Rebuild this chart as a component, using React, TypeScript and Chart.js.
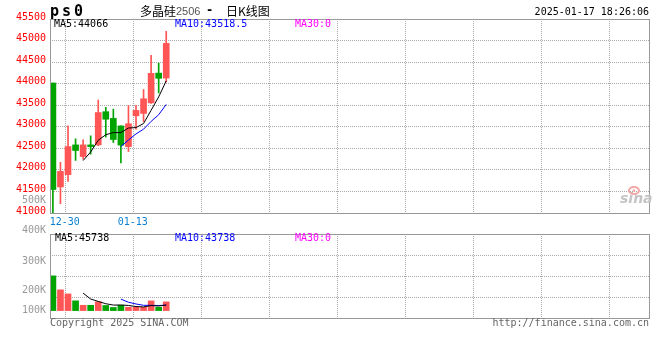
import React, { useEffect, useRef } from 'react';
import { Chart, registerables } from 'chart.js';

Chart.register(...registerables);

// ---------- data ----------
const dates = ['12-26', '12-27', '12-30', '12-31', '01-02', '01-03', '01-06', '01-07', '01-08', '01-09', '01-10', '01-13', '01-14', '01-15', '01-16', '01-17'];
const opens = [44015, 41605, 41890, 42580, 42310, 42580, 42580, 43350, 43195, 43020, 42540, 43255, 43310, 43555, 44245, 44130];
const highs = [44015, 42175, 43020, 42720, 42695, 42790, 43620, 43450, 43410, 43020, 43495, 43495, 43865, 44655, 44475, 45215];
const lows = [41000, 41215, 41735, 42220, 42250, 42365, 42560, 42760, 42635, 42160, 42425, 42945, 43120, 43540, 43785, 44040];
const closes = [41545, 41965, 42540, 42450, 42580, 42540, 43330, 43175, 42705, 42575, 43070, 43380, 43650, 44240, 44125, 44935];
const volumes = [281000, 168000, 135000, 79000, 43000, 43000, 71200, 41300, 25100, 43700, 27390, 26600, 26600, 78450, 26600, 70440];

const priceMin = 41000;
const priceMax = 45500;
const priceStep = 500;
const volTickLabels = ['500K', '400K', '300K', '200K', '100K'];

const titleCode = 'ps0';
const titleName = '多晶硅';
const titleContract = '2506';
const titleSuffix = '日K线图';
const timestamp = '2025-01-17 18:26:06';
const copyright = 'Copyright 2025 SINA.COM';
const siteUrl = 'http://finance.sina.com.cn';

// ---------- style / layout ----------
const UP = '#ff5555';
const DOWN = '#00a400';
const GRID = '#aaaaaa';
const FRAME = '#999999';
const MONO = '"DejaVu Sans Mono", "Liberation Mono", monospace';
const X_MIN = -0.384;
const X_MAX = 78.9;
const X_GRID_START = 1.7;
const X_GRID_STEP = 9;

function movingAverage(values: number[], n: number): (number | null)[] {
  return values.map((_, i) => (i < n - 1 ? null : values.slice(i - n + 1, i + 1).reduce((a, b) => a + b, 0) / n));
}
function lastAverage(values: number[], n: number): number {
  if (values.length < n) return 0;
  return values.slice(values.length - n).reduce((a, b) => a + b, 0) / n;
}
function fmt(v: number): string {
  return String(Math.round(v * 10) / 10);
}

const candleColors = closes.map((c, i) => (c >= opens[i] ? UP : DOWN));
const gridXs: number[] = [];
for (let v = X_GRID_START; v < X_MAX; v += X_GRID_STEP) gridXs.push(v);

type TextItem = { text: string; x: number; y: number; color: string; font: string; align?: CanvasTextAlign; spacing?: string };

function overlay(id: string, items: TextItem[], extra?: (ctx: CanvasRenderingContext2D) => void) {
  return {
    id,
    afterDraw(chart: any) {
      const ctx: CanvasRenderingContext2D = chart.ctx;
      const a = chart.chartArea;
      ctx.save();
      ctx.setLineDash([]);
      ctx.strokeStyle = FRAME;
      ctx.lineWidth = 1;
      ctx.strokeRect(Math.round(a.left) + 0.5, Math.round(a.top) + 0.5, Math.round(a.right - a.left), Math.round(a.bottom - a.top));
      ctx.textBaseline = 'middle';
      for (const t of items) {
        ctx.font = t.font;
        ctx.fillStyle = t.color;
        ctx.textAlign = t.align ?? 'left';
        (ctx as any).letterSpacing = t.spacing ?? '0px';
        ctx.fillText(t.text, t.x, t.y);
      }
      (ctx as any).letterSpacing = '0px';
      if (extra) extra(ctx);
      ctx.restore();
    },
  };
}

const xScaleBase = (showLabels: boolean, height: number) => ({
  type: 'linear' as const,
  min: X_MIN,
  max: X_MAX,
  offset: false,
  afterBuildTicks: (s: any) => {
    s.ticks = gridXs.map((v) => ({ value: v }));
  },
  afterFit: (s: any) => {
    s.height = height;
  },
  grid: { color: GRID, lineWidth: 1, drawTicks: false, offset: false },
  border: { display: false, dash: [1, 1] },
  ticks: {
    display: showLabels,
    autoSkip: false,
    maxRotation: 0,
    padding: 3,
    labelOffset: -1,
    color: '#0a7fd0',
    font: { family: MONO, size: 10 },
    callback: (v: any) => dates[Math.round(Number(v))] ?? '',
  },
});

export default function App() {
  const priceRef = useRef<HTMLCanvasElement>(null);
  const volRef = useRef<HTMLCanvasElement>(null);

  useEffect(() => {
    const ma5 = movingAverage(closes, 5);
    const ma10 = movingAverage(closes, 10);
    const vma5 = movingAverage(volumes, 5);
    const vma10 = movingAverage(volumes, 10);

    const itemsA: TextItem[] = [
      { text: titleCode, x: 50, y: 12, color: '#000', font: `bold 15px ${MONO}`, spacing: '3px' },
      { text: titleName, x: 140, y: 11, color: '#000', font: '12px "Noto Sans CJK SC"' },
      { text: titleContract, x: 176, y: 12, color: '#555', font: '11px "Liberation Sans"' },
      { text: '-', x: 206, y: 11, color: '#000', font: `bold 12px ${MONO}` },
      { text: titleSuffix, x: 226, y: 11, color: '#000', font: '12px "Noto Sans CJK SC"' },
      { text: timestamp, x: 649, y: 12, color: '#000', font: `10px ${MONO}`, align: 'right' },
      { text: `MA5:${fmt(lastAverage(closes, 5))}`, x: 54, y: 24, color: '#000', font: `10px ${MONO}` },
      { text: `MA10:${fmt(lastAverage(closes, 10))}`, x: 175, y: 24, color: '#0000ff', font: `10px ${MONO}` },
      { text: `MA30:${fmt(lastAverage(closes, 30))}`, x: 295, y: 24, color: '#ff00ff', font: `10px ${MONO}` },
      { text: volTickLabels[0], x: 46, y: 200.5, color: '#999', font: `10px ${MONO}`, align: 'right' },
      { text: 'sina', x: 620, y: 199, color: '#c4c4c4', font: 'italic bold 14px "DejaVu Sans"' },
    ];
    const itemsB: TextItem[] = [
      { text: volTickLabels[1], x: 46, y: 5.7, color: '#999', font: `10px ${MONO}`, align: 'right' },
      { text: volTickLabels[2], x: 46, y: 36, color: '#999', font: `10px ${MONO}`, align: 'right' },
      { text: volTickLabels[3], x: 46, y: 65.5, color: '#999', font: `10px ${MONO}`, align: 'right' },
      { text: volTickLabels[4], x: 46, y: 85, color: '#999', font: `10px ${MONO}`, align: 'right' },
      { text: `MA5:${fmt(lastAverage(volumes, 5))}`, x: 55, y: 13.5, color: '#000', font: `10px ${MONO}` },
      { text: `MA10:${fmt(lastAverage(volumes, 10))}`, x: 175, y: 13.5, color: '#0000ff', font: `10px ${MONO}` },
      { text: `MA30:${fmt(lastAverage(volumes, 30))}`, x: 295, y: 13.5, color: '#ff00ff', font: `10px ${MONO}` },
      { text: copyright, x: 50, y: 98.5, color: '#666', font: `10px ${MONO}` },
      { text: siteUrl, x: 649, y: 98.5, color: '#666', font: `10px ${MONO}`, align: 'right' },
    ];

    const logoEye = (ctx: CanvasRenderingContext2D) => {
      ctx.strokeStyle = '#f2a6a6';
      ctx.lineWidth = 2;
      ctx.beginPath();
      ctx.ellipse(634, 190.5, 5, 3.5, 0, 0, Math.PI * 2);
      ctx.stroke();
      ctx.fillStyle = '#f2a6a6';
      ctx.beginPath();
      ctx.arc(634, 190.5, 1.2, 0, Math.PI * 2);
      ctx.fill();
    };

    const c1 = new Chart(priceRef.current!, {
      type: 'bar',
      data: {
        datasets: [
          {
            type: 'line',
            data: ma5.map((y, i) => ({ x: i, y })) as any,
            borderColor: '#000',
            borderWidth: 1,
            pointRadius: 0,
            tension: 0,
            order: 0,
          },
          {
            type: 'line',
            data: ma10.map((y, i) => ({ x: i, y })) as any,
            borderColor: '#0000ff',
            borderWidth: 1,
            pointRadius: 0,
            tension: 0,
            order: 0,
          },
          {
            type: 'bar',
            data: dates.map((_, i) => ({ x: i, y: [opens[i], closes[i]] })) as any,
            backgroundColor: candleColors,
            barThickness: 6,
            grouped: false,
            borderWidth: 0,
            order: 1,
          },
          {
            type: 'bar',
            data: dates.map((_, i) => ({ x: i, y: [lows[i], highs[i]] })) as any,
            backgroundColor: candleColors,
            barThickness: 1,
            grouped: false,
            borderWidth: 0,
            order: 2,
          },
        ],
      },
      options: {
        animation: false,
        responsive: false,
        maintainAspectRatio: false,
        devicePixelRatio: 1,
        layout: { padding: { top: 19, right: 11, bottom: 0, left: 0 } },
        plugins: { legend: { display: false }, tooltip: { enabled: false }, title: { display: false } },
        scales: {
          x: xScaleBase(true, 12) as any,
          y: {
            min: priceMin,
            max: priceMax,
            afterFit: (s: any) => {
              s.width = 50;
            },
            grid: { color: GRID, lineWidth: 1, drawTicks: false },
            border: { display: false, dash: [1, 1] },
            ticks: {
              stepSize: priceStep,
              padding: 4,
              labelOffset: -2,
              color: '#ff0000',
              font: { family: MONO, size: 10 },
              callback: (v: any) => String(v),
            },
          },
        },
      },
      plugins: [overlay('overlayA', itemsA, logoEye)],
    });

    const c2 = new Chart(volRef.current!, {
      type: 'bar',
      data: {
        datasets: [
          {
            type: 'line',
            data: vma5.map((y, i) => ({ x: i, y })) as any,
            borderColor: '#000',
            borderWidth: 1,
            pointRadius: 0,
            tension: 0,
            order: 0,
          },
          {
            type: 'line',
            data: vma10.map((y, i) => ({ x: i, y })) as any,
            borderColor: '#0000ff',
            borderWidth: 1,
            pointRadius: 0,
            tension: 0,
            order: 0,
          },
          {
            type: 'bar',
            data: volumes.map((v, i) => ({ x: i, y: v })) as any,
            backgroundColor: candleColors,
            barThickness: 6,
            grouped: false,
            borderWidth: 0,
            order: 1,
          },
        ],
      },
      options: {
        animation: false,
        responsive: false,
        maintainAspectRatio: false,
        devicePixelRatio: 1,
        layout: { padding: { top: 9, right: 11, bottom: 42, left: 0 } },
        plugins: { legend: { display: false }, tooltip: { enabled: false }, title: { display: false } },
        scales: {
          x: xScaleBase(false, 0) as any,
          y: {
            min: -60000,
            max: 620000,
            afterBuildTicks: (s: any) => {
              const n = 4;
              s.ticks = Array.from({ length: n + 1 }, (_, k) => ({ value: s.min + ((s.max - s.min) * k) / n }));
            },
            afterFit: (s: any) => {
              s.width = 50;
            },
            grid: { color: GRID, lineWidth: 1, drawTicks: false },
            border: { display: false, dash: [1, 1] },
            ticks: { display: false },
          },
        },
      },
      plugins: [overlay('overlayB', itemsB)],
    });

    return () => {
      c1.destroy();
      c2.destroy();
    };
  }, []);

  return (
    <div style={{ position: 'absolute', left: 0, top: 0, width: 660, height: 360, background: '#fff' }}>
      <canvas ref={priceRef} width={660} height={225} style={{ position: 'absolute', left: 0, top: 0, width: 660, height: 225 }} />
      <canvas ref={volRef} width={660} height={135} style={{ position: 'absolute', left: 0, top: 225, width: 660, height: 135 }} />
    </div>
  );
}
